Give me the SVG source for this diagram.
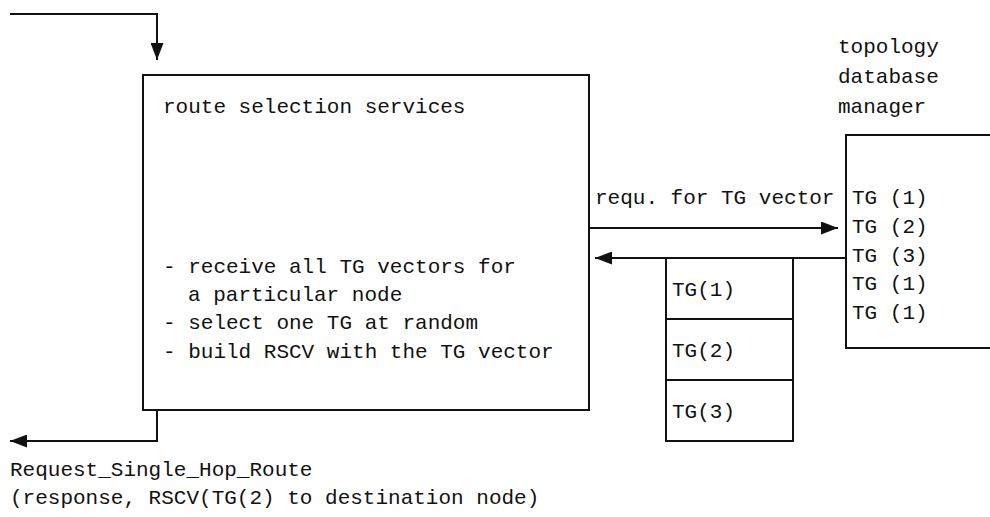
<svg xmlns="http://www.w3.org/2000/svg" width="990" height="517" viewBox="0 0 990 517">
<style>
text{font-family:"Liberation Mono","DejaVu Sans Mono",monospace;font-size:21px;letter-spacing:0px;fill:#111}
.b{fill:none;stroke:#111;stroke-width:2}
.c{fill:none;stroke:#111;stroke-width:2}
</style>
<defs>
<marker id="ah" markerWidth="17" markerHeight="13" refX="17" refY="6.5" orient="auto" markerUnits="userSpaceOnUse">
<path d="M0,0 L17,6.5 L0,13 Z" fill="#111"/>
</marker>
</defs>
<rect width="990" height="517" fill="#fff"/>
<g id="rss">
<rect class="b" x="143" y="75" width="446" height="335"/>
<text x="163" y="113">route selection services</text>
<text x="163" y="273">- receive all TG vectors for</text>
<text x="188" y="301">a particular node</text>
<text x="163" y="329">- select one TG at random</text>
<text x="163" y="358">- build RSCV with the TG vector</text>
</g>
<g id="tdm">
<text x="838" y="53">topology</text>
<text x="838" y="83">database</text>
<text x="838" y="113">manager</text>
<path class="b" d="M992,135 H846 V348 H992"/>
<text x="852" y="204">TG (1)</text>
<text x="852" y="233">TG (2)</text>
<text x="852" y="262">TG (3)</text>
<text x="852" y="290">TG (1)</text>
<text x="852" y="319">TG (1)</text>
</g>
<g id="stack">
<rect class="b" x="666" y="258" width="127" height="183"/>
<line class="b" x1="666" y1="319" x2="793" y2="319"/>
<line class="b" x1="666" y1="380" x2="793" y2="380"/>
<text x="672" y="296">TG(1)</text>
<text x="672" y="357">TG(2)</text>
<text x="672" y="418">TG(3)</text>
</g>
<g id="connectors">
<path class="c" d="M10,14 H157 V60" marker-end="url(#ah)"/>
<path class="c" d="M157,410 V441 H10" marker-end="url(#ah)"/>
<path class="c" d="M589,228 H838" marker-end="url(#ah)"/>
<path class="c" d="M846,258 H595" marker-end="url(#ah)"/>
<text x="595" y="204">requ. for TG vector</text>
</g>
<g id="labels">
<text x="10" y="476">Request_Single_Hop_Route</text>
<text x="10" y="504">(response, RSCV(TG(2) to destination node)</text>
</g>
</svg>
